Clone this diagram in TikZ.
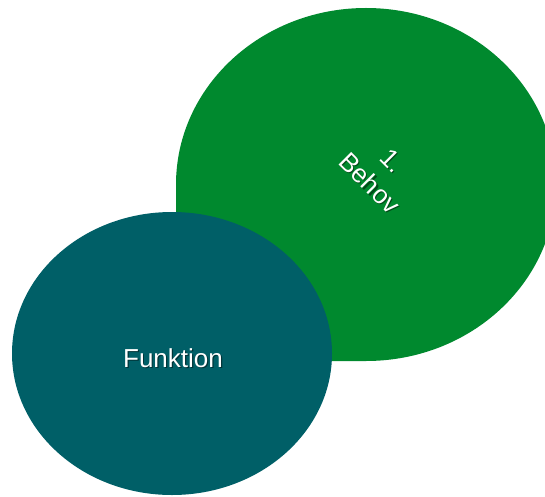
\documentclass[tikz,border=0pt]{standalone}
\usepackage{fontspec}
\setmainfont{Liberation Sans}
\definecolor{leafgreen}{RGB}{0,137,46}
\definecolor{deepteal}{RGB}{0,95,103}
\tikzset{
  label text/.style={text=white, font=\fontsize{26}{32}\selectfont, align=center, inner sep=0pt},
  label shadow/.style={text=black, text opacity=0.45, font=\fontsize{26}{32}\selectfont, align=center, inner sep=0pt},
}
\begin{document}
\begin{tikzpicture}[x=1pt, y=1pt]
  \useasboundingbox (0,0) rectangle (545,496);
  \clip (0,0) rectangle (545,496);
  % rounded shape with one square corner (bottom left)
  \fill[leafgreen] (176,135) -- (176,311.5)
    arc[start angle=180, end angle=-90, x radius=190, y radius=176.5] -- cycle;
  % oval in front
  \fill[deepteal] (172,142.5) ellipse[x radius=160, y radius=141.5];
  % labels
  \node[label shadow, rotate=-45] at (382.2,322.8) {1.\\Behov};
  \node[label text, rotate=-45] (behov) at (381,324) {1.\\Behov};
  \node[label shadow] at (174.2,136.8) {Funktion};
  \node[label text] (funktion) at (173,138) {Funktion};
\end{tikzpicture}
\end{document}
